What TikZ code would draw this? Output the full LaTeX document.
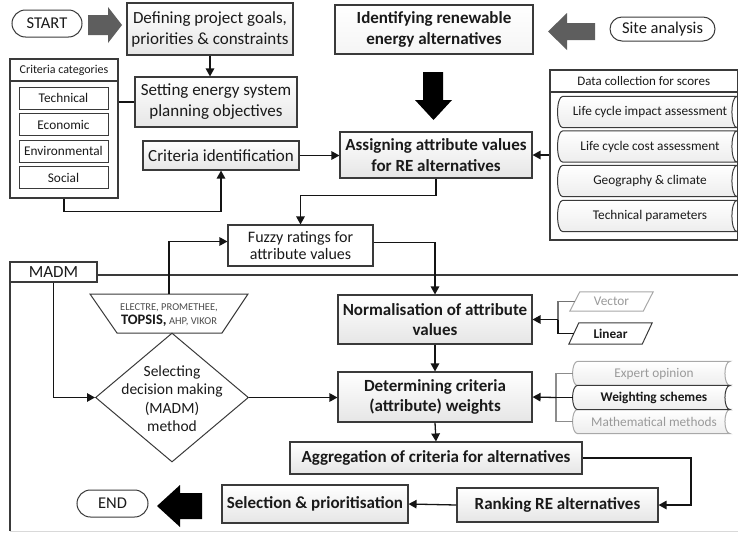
\documentclass[tikz,border=0pt]{standalone}
\usepackage{fontspec}
\setmainfont{Carlito}
\usetikzlibrary{shapes.geometric,shapes.misc,arrows.meta,calc,backgrounds}
\definecolor{bord}{HTML}{3A3A3A}
\definecolor{txt}{HTML}{1A1A1A}
\definecolor{lgr}{HTML}{A8A8A8}
\definecolor{gtx}{HTML}{9A9A9A}
\definecolor{garrow}{HTML}{5E5E5E}
\newcommand\storedout[2]{%
  \begin{pgfonlayer}{background}
  \draw[line width=1pt, draw=#2, top color=white, bottom color=black!7]
    (#1.north east) -- (#1.north west)
    .. controls +(-7,0) and +(-7,0) .. (#1.south west)
    -- (#1.south east)
    .. controls +(-7,0) and +(-7,0) .. (#1.north east) -- cycle;
  \end{pgfonlayer}}
\newcommand\paraout[2]{%
  \begin{pgfonlayer}{background}
  \draw[line width=1pt, draw=#2, fill=white]
    ($(#1.south west)+(-5,0)$) -- ($(#1.north west)+(5,0)$)
    -- ($(#1.north east)+(5,0)$) -- ($(#1.south east)+(-5,0)$) -- cycle;
  \end{pgfonlayer}}
\begin{document}
\begin{tikzpicture}[x=1pt,y=-1pt,
  mainfont/.style={font=\fontsize{17}{21}\selectfont},
  box/.style={draw=bord, line width=1.1pt, top color=white, bottom color=black!10,
    align=center, inner sep=0pt, text=txt, mainfont},
  boldbox/.style={box, font=\fontsize{17}{20.5}\selectfont\bfseries},
  plainbox/.style={draw=bord, line width=1.1pt, fill=white, align=center,
    inner sep=0pt, text=txt, mainfont},
  catitem/.style={draw=bord, line width=1pt, fill=white, align=center, inner sep=0pt,
    text=txt, minimum width=89, minimum height=22, font=\fontsize{13.3}{14}\selectfont},
  term/.style={rounded rectangle, draw=bord, line width=1pt, fill=white, inner sep=0pt,
    text=txt, font=\fontsize{16.5}{18}\selectfont},
  stored/.style={draw=none, inner sep=0pt, align=center, text=txt,
    font=\fontsize{13.3}{15}\selectfont},
  para/.style={draw=none, inner sep=0pt, minimum width=73,
    font=\fontsize{13.3}{15}\selectfont},
  conn/.style={draw=black!92, line width=1.3pt},
  arr/.style={conn, -{Triangle[length=8pt,width=8.5pt]}},
]
\useasboundingbox (0,0) rectangle (738,533);

% ---------- MADM frame ----------
\draw[draw=bord, line width=1.1pt] (737.5,275) -- (10,275) -- (10,531);
\draw[draw=black!15, line width=1pt] (10,531.5) -- (738,531.5);
\node[draw=bord, line width=1.1pt, fill=white, minimum width=87, minimum height=20,
  inner sep=0pt, text=txt, font=\fontsize{17}{18}\selectfont] (madm) at (53.5,272) {MADM};

% ---------- top row ----------
\node[term, minimum width=70, minimum height=27] (start) at (47,23.5) {START};
\fill[garrow] (88,15) -- (108,15) -- (108,7) -- (122,25) -- (108,43) -- (108,35) -- (88,35) -- cycle;
\node[box, minimum width=166, minimum height=52] (def) at (210,29)
  {Defining project goals,\\priorities \& constraints};
\node[box, font=\fontsize{17}{21}\selectfont\bfseries, top color=white, bottom color=black!4,
  minimum width=198, minimum height=49] (ident) at (434,29.5)
  {Identifying renewable\\energy alternatives};
\fill[garrow] (595,23) -- (567,23) -- (567,13) -- (548,31.5) -- (567,50) -- (567,40) -- (595,40) -- cycle;
\node[term, minimum width=105, minimum height=24] (site) at (662.5,29) {Site analysis};
\fill[black] (423,72) -- (443,72) -- (443,100) -- (452,100) -- (433.5,120) -- (415,100) -- (423,100) -- cycle;

% ---------- criteria categories ----------
\node[draw=bord, line width=1.1pt, minimum width=108, minimum height=139, inner sep=0pt] (cat) at (64,128.5) {};
\node[draw=bord, line width=1.1pt, fill=white, minimum width=108, minimum height=22, inner sep=0pt,
  text=txt, font=\fontsize{12}{13}\selectfont] (cattitle) at (64,70) {Criteria categories};
\node[catitem] (tech) at (63.5,98) {Technical};
\node[catitem] (econ) at (63.5,124.5) {Economic};
\node[catitem] (env) at (63.5,151) {Environmental};
\node[catitem] (soc) at (63.5,177.5) {Social};

\node[box, minimum width=162, minimum height=50] (set) at (216,102)
  {Setting energy system\\planning objectives};
\node[box, minimum width=156, minimum height=29] (critid) at (221,155.5) {Criteria identification};
\node[boldbox, minimum width=192, minimum height=46] (assign) at (436,155)
  {Assigning attribute values\\for RE alternatives};

% ---------- data collection ----------
\node[draw=bord, line width=1.1pt, minimum width=187.5, minimum height=170, inner sep=0pt] (dc) at (643.75,155) {};
\node[draw=bord, line width=1.1pt, fill=white, minimum width=187.5, minimum height=22, inner sep=0pt,
  text=txt, font=\fontsize{13}{14}\selectfont] (dctitle) at (643.75,81) {Data collection for scores};
\node[stored, minimum width=174, minimum height=31] (lcia) at (650,112) {Life cycle impact assessment};
\node[stored, minimum width=174, minimum height=31] (lcca) at (650,146.5) {Life cycle cost assessment};
\node[stored, minimum width=174, minimum height=31] (geo) at (650,181) {Geography \& climate};
\node[stored, minimum width=174, minimum height=31] (techp) at (650,216) {Technical parameters};
\storedout{lcia}{bord}\storedout{lcca}{bord}\storedout{geo}{bord}\storedout{techp}{bord}

% ---------- fuzzy / MADM part ----------
\node[plainbox, minimum width=145, minimum height=41, font=\fontsize{16}{17.5}\selectfont] (fuzzy) at (300.5,245.5)
  {Fuzzy ratings for\\attribute values};
\draw[draw=bord, line width=1pt, fill=white] (90,294) -- (248,294) -- (222,333) -- (117,333) -- cycle;
\coordinate (trapN) at (169,294);
\node[align=center, text=txt, inner sep=0pt, font=\fontsize{10.5}{13.5}\selectfont] (trap) at (169,315)
  {\textcolor{black!70}{ELECTRE, PROMETHEE,}\\{\fontsize{14.5}{13.5}\selectfont\bfseries TOPSIS,} \textcolor{black!70}{AHP, VIKOR}};
\node[diamond, draw=bord, line width=1pt, fill=white, minimum width=153, minimum height=129,
  inner sep=0pt] (dia) at (172,397.5) {};
\node[align=center, text=txt, inner sep=0pt, font=\fontsize{15.5}{18.5}\selectfont] (diatext) at (172,398.5)
  {Selecting\\decision making\\(MADM)\\method};

\node[boldbox, minimum width=194, minimum height=49] (norm) at (435,319.5)
  {Normalisation of attribute\\values};
\node[para, text=gtx, minimum height=19] (vec) at (611.5,301.5) {Vector};
\node[para, text=txt, minimum height=21, font=\fontsize{13.3}{15}\selectfont\bfseries] (lin) at (610.5,333.5) {Linear};
\paraout{vec}{lgr}\paraout{lin}{bord}

\node[boldbox, minimum width=194, minimum height=50] (det) at (435,397)
  {Determining criteria\\(attribute) weights};
\node[stored, minimum width=152, minimum height=24, text=gtx] (exp) at (654,373.5) {Expert opinion};
\node[stored, minimum width=152, minimum height=24, font=\fontsize{13.3}{15}\selectfont\bfseries] (wsch) at (654,397.5) {Weighting schemes};
\node[stored, minimum width=152, minimum height=24, text=gtx] (math) at (654,421.5) {Mathematical methods};
\storedout{exp}{lgr}\storedout{math}{lgr}\storedout{wsch}{bord}

\node[boldbox, minimum width=292, minimum height=32] (agg) at (436,458)
  {Aggregation of criteria for alternatives};
\node[boldbox, minimum width=201, minimum height=34] (rank) at (557.5,505) {Ranking RE alternatives};
\node[boldbox, minimum width=186, minimum height=38] (sel) at (315,504) {Selection \& prioritisation};
\fill[black] (202,493) -- (180,493) -- (180,485) -- (157,506) -- (180,527) -- (180,519) -- (202,519) -- cycle;
\node[term, minimum width=71, minimum height=27] (end) at (112.5,503.5) {END};

% ---------- connectors ----------
\draw[arr] (def.south) -- (def.south |- set.north);
\draw[conn] (cat.east |- set.west) -- (set.west);
\draw[arr] (cat.south) -- ++(0,13) -| (critid.south);
\draw[arr] (critid.east) -- (critid.east -| assign.west);
\draw[arr] (dc.west) -- (dc.west -| assign.east);
\draw[arr] (assign.south) -- ++(0,17) -| (fuzzy.north);
\draw[arr] ($(fuzzy.east)+(0,-3)$) -| (norm.north);
\draw[arr] (trapN) |- ($(fuzzy.west)+(0,-4)$);
\draw[arr] (madm.south) |- (dia.west);
\draw[arr] (dia.east) -- (dia.east -| det.west);
\coordinate (nj) at (558,319.5);
\draw[conn, draw=black!55] (vec.west) -| (nj);
\draw[conn] (nj) |- (lin.west);
\draw[arr] (nj) -- (norm.east);
\draw[arr] (norm.south) -- (det.north);
\coordinate (dj) at (556,397.5);
\draw[conn, draw=black!45] ($(exp.west)+(-5,0)$) -| (dj);
\draw[conn, draw=black!45] ($(math.west)+(-5,0)$) -| (dj);
\draw[conn] ($(wsch.west)+(-5,0)$) -- (dj);
\draw[arr] (dj) -- (det.east);
\draw[arr] (det.south) -- (agg.north);
\coordinate (ac) at (691,458);
\draw[arr] (agg.east) -- (ac) |- (rank.east);
\draw[arr] (rank.west) -- (sel.east);
\end{tikzpicture}
\end{document}
